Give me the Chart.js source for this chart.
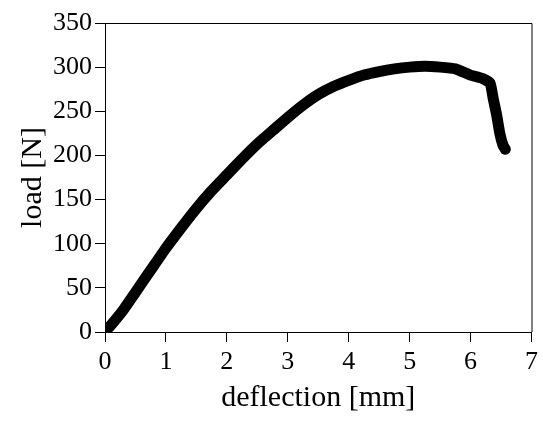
<!DOCTYPE html>
<html>
<head>
<meta charset="utf-8">
<script src="https://cdn.jsdelivr.net/npm/chart.js@4/dist/chart.umd.min.js"></script>
<style>
  html, body { margin: 0; padding: 0; background: #fff; }
  #wrap { width: 543px; height: 423px; }
</style>
</head>
<body>
<div id="wrap"><canvas id="c" width="543" height="423"></canvas></div>
<script>
// 변위 [mm] / 하중 [N] — 그림에서 읽은 값
const deflection = [0.02, 0.1, 0.3, 0.5, 0.75, 1.0, 1.25, 1.5, 1.75, 2.0, 2.25, 2.5, 2.75, 3.0, 3.25, 3.5, 3.75, 4.0, 4.25, 4.5, 4.75, 5.0, 5.25, 5.5, 5.75, 6.0, 6.2, 6.32, 6.37, 6.43, 6.48, 6.53, 6.57];
const load = [2, 8, 25, 45, 70, 95, 118, 140, 160, 178, 196, 213, 228, 243, 257, 269, 278, 285, 291, 295, 298, 300, 301, 300, 298, 291, 287, 282, 265, 245, 225, 212, 207];

// 축 눈금
const xTicks = [0, 1, 2, 3, 4, 5, 6, 7];
const yTicks = [0, 50, 100, 150, 200, 250, 300, 350];

const points = deflection.map((d, i) => ({ x: d, y: load[i] }));

// 플롯 영역 테두리 (위, 오른쪽)
const frame = {
    id: 'frame',
    afterDraw(chart) {
        const { ctx, chartArea: a } = chart;
        ctx.save();
        ctx.strokeStyle = '#000';
        ctx.lineWidth = 1;
        ctx.beginPath();
        ctx.moveTo(a.left, a.top + 0.5);
        ctx.lineTo(a.right + 0.5, a.top + 0.5);
        ctx.lineTo(a.right + 0.5, a.bottom);
        ctx.stroke();
        ctx.restore();
    }
};

const serif = 'Liberation Serif';

new Chart(document.getElementById('c'), {
    type: 'line',
    data: {
        datasets: [{
            data: points,
            borderColor: '#000',
            borderWidth: 11,
            borderCapStyle: 'round',
            borderJoinStyle: 'round',
            pointRadius: 0,
            tension: 0.15,
            clip: 0,
            fill: false
        }]
    },
    options: {
        responsive: false,
        animation: false,
        layout: { padding: { top: 23, right: 11, left: 0, bottom: 0 } },
        plugins: { legend: { display: false }, tooltip: { enabled: false } },
        scales: {
            x: {
                type: 'linear',
                min: 0,
                max: 7,
                afterBuildTicks: s => { s.ticks = xTicks.map(v => ({ value: v })); },
                afterFit: s => { s.height = 91; },
                grid: { drawOnChartArea: false, drawTicks: true, tickLength: 10, color: '#000' },
                border: { color: '#000', width: 1 },
                ticks: { color: '#000', font: { family: serif, size: 26 }, padding: 5, maxRotation: 0 },
                title: { display: true, text: 'deflection [mm]', color: '#000', font: { family: serif, size: 30 }, padding: 7 }
            },
            y: {
                min: 0,
                max: 350,
                afterBuildTicks: s => { s.ticks = yTicks.map(v => ({ value: v })); },
                afterFit: s => { s.width = 105; },
                grid: { drawOnChartArea: false, drawTicks: true, tickLength: 10, color: '#000' },
                border: { color: '#000', width: 1 },
                ticks: { color: '#000', font: { family: serif, size: 26 }, padding: 3 },
                title: { display: true, text: 'load [N]', color: '#000', font: { family: serif, size: 30 }, padding: { top: 15, bottom: 0 } }
            }
        }
    },
    plugins: [frame]
});
</script>
</body>
</html>
